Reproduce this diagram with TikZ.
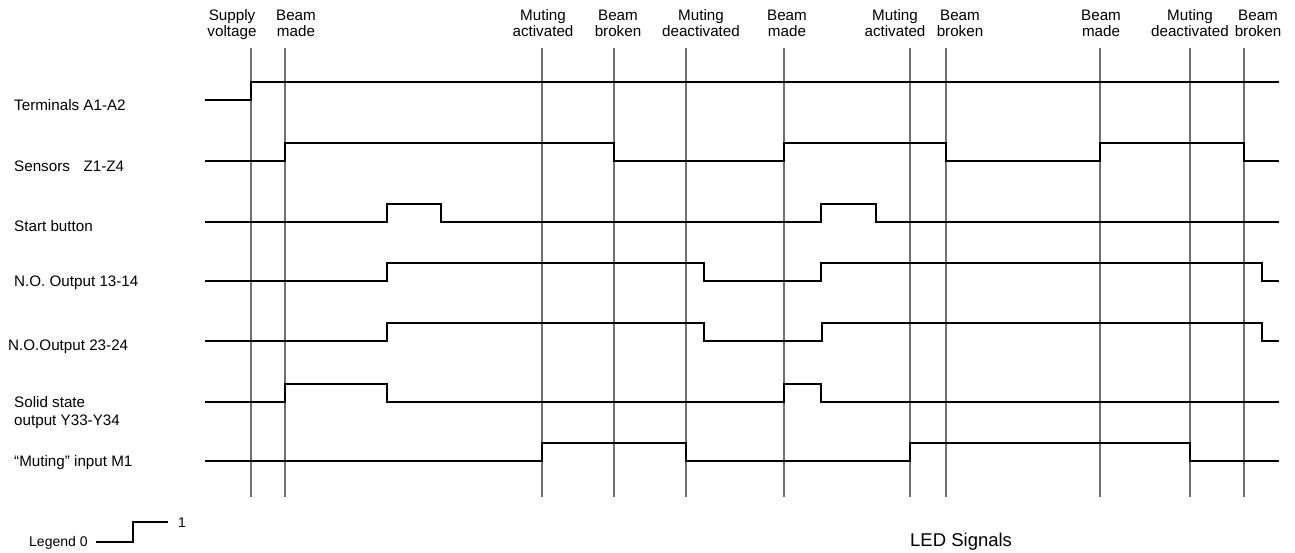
\documentclass[tikz,border=0pt]{standalone}
\usepackage{fontspec}
\setmainfont{Liberation Sans}
\definecolor{gridgray}{RGB}{112,112,112}
\begin{document}
\begin{tikzpicture}[x=1pt,y=-1pt,
  sig/.style={line width=2pt, line join=miter, line cap=butt},
  gridline/.style={line width=1.1pt, draw=gridgray},
  lbl/.style={anchor=base west, inner sep=0pt, font=\fontsize{15.2}{17}\selectfont},
  toplbl/.style={anchor=base, inner sep=0pt, align=center, font=\fontsize{15.2}{16}\selectfont}]
\useasboundingbox (0,0) rectangle (1295,552);

% event (grid) lines
\foreach \x in {251,285,542,614,686,784,910,946,1100,1190,1244}
  \draw[gridline] (\x,48) -- (\x,497);

% top labels (base = baseline of the last line)
\node[toplbl] (e1)  at (232,36.5)  {Supply\\voltage};
\node[toplbl] (e2)  at (296,36.5)  {Beam\\made};
\node[toplbl] (e3)  at (543,36.5)  {Muting\\activated};
\node[toplbl] (e4)  at (618,36.5)  {Beam\\broken};
\node[toplbl] (e5)  at (701,36.5)  {Muting\\deactivated};
\node[toplbl] (e6)  at (787,36.5)  {Beam\\made};
\node[toplbl] (e7)  at (895,36.5)  {Muting\\activated};
\node[toplbl] (e8)  at (960,36.5)  {Beam\\broken};
\node[toplbl] (e9)  at (1101,36.5) {Beam\\made};
\node[toplbl] (e10) at (1190,36.5) {Muting\\deactivated};
\node[toplbl] (e11) at (1258,36.5) {Beam\\broken};

% row labels
\node[lbl] (lTerm)  at (14,110)   {Terminals A1-A2};
\node[lbl] (lSens)  at (14,171)   {Sensors\hspace{0.9em}Z1-Z4};
\node[lbl] (lStart) at (14,231.5) {Start button};
\node[lbl] (lNO1)   at (14,286)   {N.O. Output 13-14};
\node[lbl] (lNO2)   at (8,350.5)  {N.O.Output 23-24};
\node[lbl] (lSol1)  at (14,407.5) {Solid state};
\node[lbl] (lSol2)  at (14,425)   {output Y33-Y34};
\node[lbl] (lMut)   at (14,466)   {\char"201C Muting\char"201D{} input M1};

% signals
\draw[sig] (205,100) -| (251,82) -- (1279,82);
\draw[sig] (205,161) -| (285,143) -| (614,161) -| (784,143) -| (946,161) -| (1100,143) -| (1244,161) -- (1279,161);
\draw[sig] (205,222) -| (387,204) -| (441,222) -| (821,204) -| (876,222) -- (1279,222);
\draw[sig] (205,281) -| (387,263) -| (704,281) -| (821,263) -| (1262,281) -- (1279,281);
\draw[sig] (205,341) -| (387,323) -| (704,341) -| (822,323) -| (1262,341) -- (1279,341);
\draw[sig] (205,402) -| (285,384) -| (387,402) -| (784,384) -| (821,402) -- (1279,402);
\draw[sig] (205,461) -| (542,443) -| (686,461) -| (910,443) -| (1190,461) -- (1279,461);

% legend
\node[anchor=base west, inner sep=0pt, font=\fontsize{14}{16}\selectfont] (lLeg) at (29,546) {Legend 0};
\node[anchor=base west, inner sep=0pt, font=\fontsize{14}{16}\selectfont] (lOne) at (178,527) {1};
\coordinate (leg0) at (96,542);
\coordinate (leg1) at (168,522);
\draw[line width=1.6pt] (leg0) -- (133,542) |- (leg1);

\node[anchor=base west, inner sep=0pt, font=\fontsize{18.5}{20}\selectfont] (led) at (910,546) {LED Signals};
\end{tikzpicture}
\end{document}
